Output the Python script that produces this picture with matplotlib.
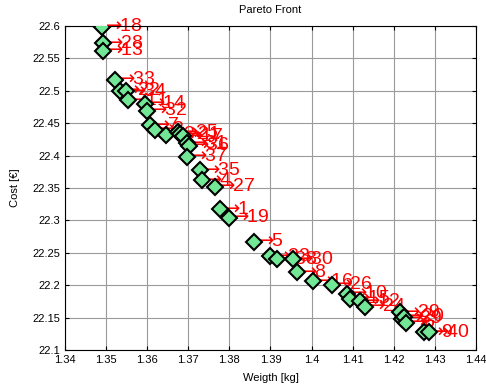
"""
Pareto front of weight vs cost, each design labelled with its index.
"""

import numpy as np
import matplotlib
matplotlib.use('Agg')
import matplotlib.pyplot as plt

# design index, weight [kg] and cost [EUR]
labels = [18, 28, 13, 33, 22, 34, 11, 14, 32, 7,
          2, 3, 25, 21, 17, 31, 36, 37, 35, 4,
          27, 1, 19, 5, 23, 38, 30, 8, 16, 26,
          10, 15, 12, 24, 29, 39, 20, 6, 9, 40]
weight = [1.3490, 1.3492, 1.3492, 1.3522, 1.3534, 1.3548, 1.3553, 1.3595, 1.3600, 1.3607,
          1.3619, 1.3646, 1.3675, 1.3680, 1.3687, 1.3697, 1.3702, 1.3697, 1.3728, 1.3733,
          1.3765, 1.3777, 1.3799, 1.3860, 1.3899, 1.3916, 1.3955, 1.3965, 1.4003, 1.4050,
          1.4086, 1.4093, 1.4118, 1.4130, 1.4215, 1.4220, 1.4225, 1.4230, 1.4273, 1.4286]
cost = [22.599, 22.573, 22.562, 22.517, 22.500, 22.499, 22.485, 22.480, 22.469, 22.447,
        22.440, 22.432, 22.436, 22.433, 22.430, 22.419, 22.415, 22.398, 22.377, 22.362,
        22.352, 22.317, 22.304, 22.267, 22.245, 22.240, 22.240, 22.220, 22.206, 22.201,
        22.187, 22.179, 22.175, 22.167, 22.158, 22.148, 22.151, 22.142, 22.127, 22.127]

xticks = np.round(np.arange(1.34, 1.4401, 0.01), 2)
yticks = np.round(np.arange(22.1, 22.6001, 0.05), 2)

plt.rcParams['font.family'] = ['Liberation Sans', 'DejaVu Sans']
plt.rcParams['mathtext.fontset'] = 'dejavusans'

fig = plt.figure(figsize=(4.86, 3.90), dpi=100)
ax = fig.add_axes([0.1337, 0.1026, 0.8457, 0.8308])

ax.plot(weight, cost, 'D', markersize=8.5, markerfacecolor='#72E896',
        markeredgecolor='black', markeredgewidth=1.5, zorder=3)

for w, c, lab in zip(weight, cost, labels):
    ax.text(w, c, r'$\rightarrow\!\!$' + str(lab), color='red', fontsize=14,
            ha='left', va='center', zorder=2)

ax.set_xlim(1.34, 1.44)
ax.set_ylim(22.1, 22.6)
ax.set_xticks(xticks)
ax.set_yticks(yticks)
ax.set_xticklabels(['%g' % t for t in xticks])
ax.set_yticklabels(['%g' % t for t in yticks])
ax.tick_params(direction='in', top=True, right=True, labelsize=8, length=3)
ax.grid(True, color='#9a9a9a', linewidth=0.8)
ax.set_axisbelow(True)

ax.set_xlabel('Weigth [kg]', fontsize=8, labelpad=6)
ax.set_ylabel('Cost [\u20ac]', fontsize=8, labelpad=9)
ax.set_title('Pareto Front', fontsize=8, pad=9)

fig.savefig('out.png', dpi=100)
